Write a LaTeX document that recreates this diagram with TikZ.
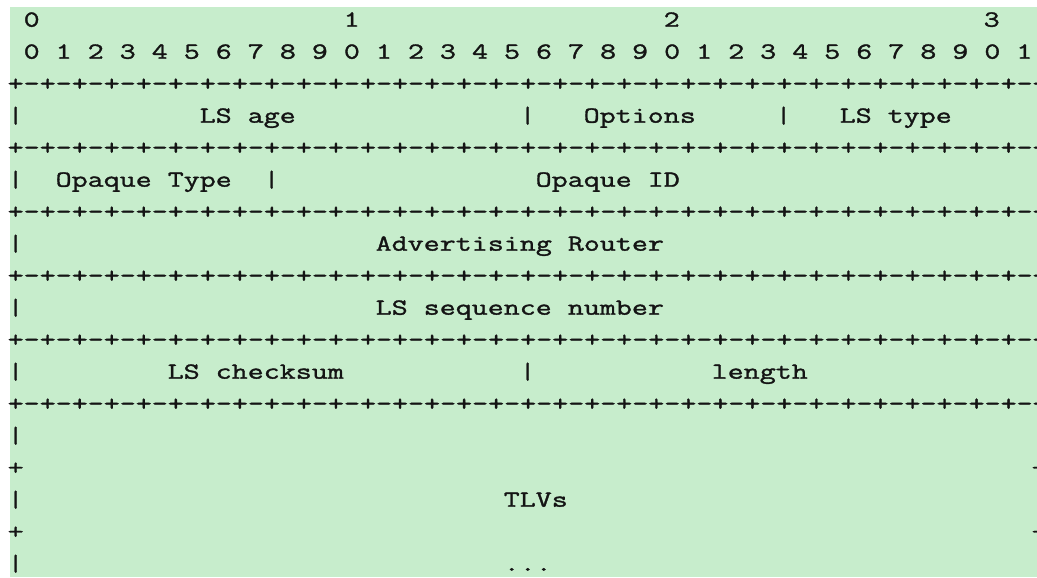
\documentclass[tikz,border=0pt]{standalone}
\usepackage{fontspec}
\newfontfamily\asciifont[FakeStretch=1.352,FakeBold=1.5]{Latin Modern Mono}
\definecolor{paper}{RGB}{199,237,204}
\definecolor{ink}{RGB}{20,20,20}
\newcommand{\bitrule}{+-+-+-+-+-+-+-+-+-+-+-+-+-+-+-+-+-+-+-+-+-+-+-+-+-+-+-+-+-+-+-+-+}

\begin{document}
\begin{tikzpicture}[x=16pt, y=-32pt,
    cell/.style={anchor=base west, inner sep=0pt, outer sep=0pt, text=ink, font=\asciifont\fontsize{23}{32}\selectfont},
]
\fill[white] (-0.48,-0.834) rectangle (64.33,17.2);
\fill[paper] (0.144,-0.625) rectangle (64.33,17.2);
\useasboundingbox (-0.48,-0.834) rectangle (64.33,17.2);
% bit numbering
\node[cell] (tens0) at (1,0) {0};
\node[cell] (tens1) at (21,0) {1};
\node[cell] (tens2) at (41,0) {2};
\node[cell] (tens3) at (61,0) {3};
\node[cell] (bits) at (1,1) {0 1 2 3 4 5 6 7 8 9 0 1 2 3 4 5 6 7 8 9 0 1 2 3 4 5 6 7 8 9 0 1};
% separator lines
\foreach \r in {2,4,...,12}
    \node[cell] (rule\r) at (0,\r) {\bitrule};
% LS age / Options / LS type
\node[cell] (bar3a) at (0,3) {|};
\node[cell] (lsage) at (12,3) {LS age};
\node[cell] (bar3b) at (32,3) {|};
\node[cell] (options) at (36,3) {Options};
\node[cell] (bar3c) at (48,3) {|};
\node[cell] (lstype) at (52,3) {LS type};
% Opaque Type / Opaque ID
\node[cell] (bar5a) at (0,5) {|};
\node[cell] (optype) at (3,5) {Opaque Type};
\node[cell] (bar5b) at (16,5) {|};
\node[cell] (opid) at (33,5) {Opaque ID};
% Advertising Router
\node[cell] (bar7) at (0,7) {|};
\node[cell] (advrtr) at (23,7) {Advertising Router};
% LS sequence number
\node[cell] (bar9) at (0,9) {|};
\node[cell] (lsseq) at (23,9) {LS sequence number};
% LS checksum / length
\node[cell] (bar11a) at (0,11) {|};
\node[cell] (cksum) at (10,11) {LS checksum};
\node[cell] (bar11b) at (32,11) {|};
\node[cell] (length) at (44,11) {length};
% TLVs
\node[cell] (bar13) at (0,13) {|};
\node[cell] (plus14a) at (0,14) {+};
\node[cell] (plus14b) at (64,14) {+};
\node[cell] (bar15) at (0,15) {|};
\node[cell] (tlvs) at (31,15) {TLVs};
\node[cell] (plus16a) at (0,16) {+};
\node[cell] (plus16b) at (64,16) {+};
\node[cell] (bar17) at (0,17) {|};
\node[cell] (more) at (31,17) {...};
\end{tikzpicture}
\end{document}
